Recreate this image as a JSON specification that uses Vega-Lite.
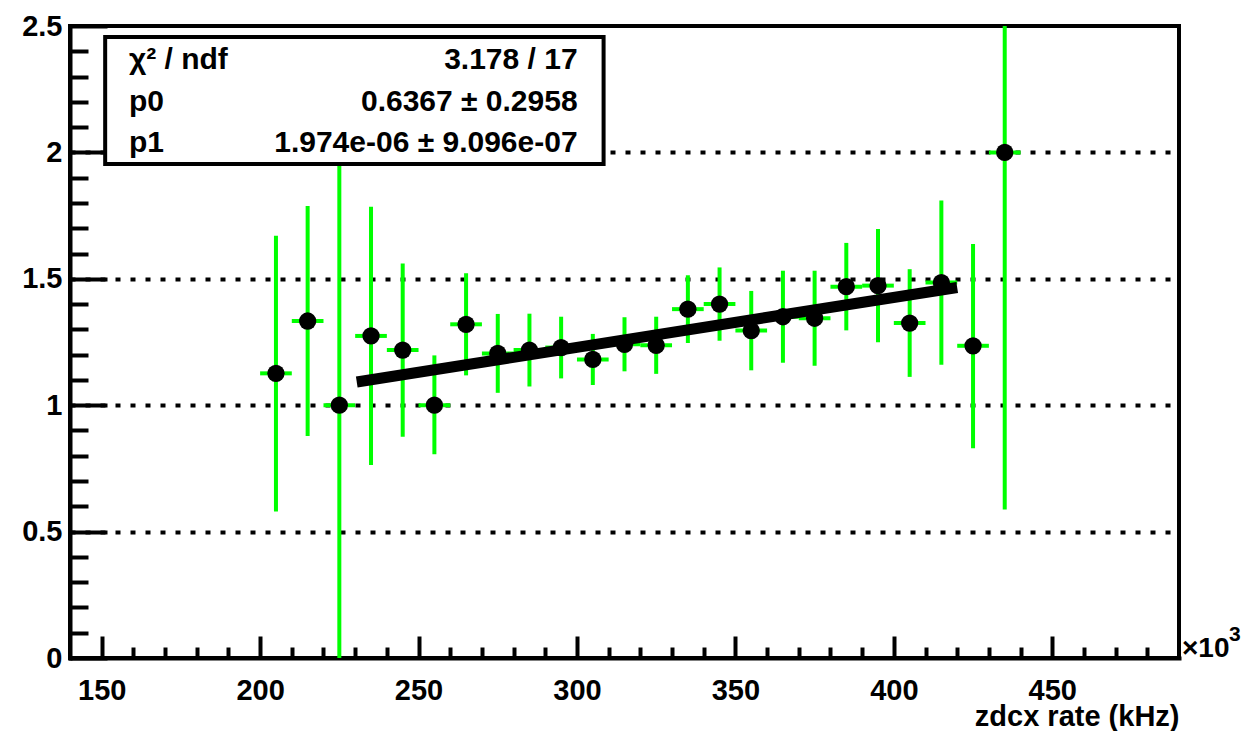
{
  "$schema": "https://vega.github.io/schema/vega-lite/v6.json",
  "width": 1109,
  "height": 632,
  "autosize": {"type": "none"},
  "padding": {"left": 70, "top": 26, "right": 70, "bottom": 73},
  "background": "white",
  "config": {
    "view": {"stroke": "black", "strokeWidth": 4},
    "axis": {
      "domainColor": "black", "domainWidth": 4, "domainCap": "square",
      "tickColor": "black", "tickWidth": 4,
      "labelFont": "Liberation Sans", "labelFontWeight": "bold", "labelFontSize": 29, "labelColor": "black",
      "titleFont": "Liberation Sans", "titleFontWeight": "bold", "titleFontSize": 29, "titleColor": "black",
      "labelFlush": false, "labelOverlap": false, "labelBound": false
    },
    "text": {"font": "Liberation Sans", "fontWeight": "bold", "fontSize": 30, "color": "black"}
  },
  "datasets": {
    "points": [
      {"x": 205, "xlo": 200, "xhi": 210, "y": 1.126, "ylo": 0.580, "yhi": 1.670},
      {"x": 215, "xlo": 210, "xhi": 220, "y": 1.333, "ylo": 0.878, "yhi": 1.788},
      {"x": 225, "xlo": 220, "xhi": 230, "y": 1.000, "ylo": 0.000, "yhi": 2.000},
      {"x": 235, "xlo": 230, "xhi": 240, "y": 1.274, "ylo": 0.763, "yhi": 1.785},
      {"x": 245, "xlo": 240, "xhi": 250, "y": 1.218, "ylo": 0.875, "yhi": 1.561},
      {"x": 255, "xlo": 250, "xhi": 260, "y": 1.000, "ylo": 0.806, "yhi": 1.197},
      {"x": 265, "xlo": 260, "xhi": 270, "y": 1.320, "ylo": 1.118, "yhi": 1.522},
      {"x": 275, "xlo": 270, "xhi": 280, "y": 1.205, "ylo": 1.049, "yhi": 1.361},
      {"x": 285, "xlo": 280, "xhi": 290, "y": 1.218, "ylo": 1.074, "yhi": 1.362},
      {"x": 295, "xlo": 290, "xhi": 300, "y": 1.228, "ylo": 1.106, "yhi": 1.350},
      {"x": 305, "xlo": 300, "xhi": 310, "y": 1.181, "ylo": 1.080, "yhi": 1.282},
      {"x": 315, "xlo": 310, "xhi": 320, "y": 1.241, "ylo": 1.134, "yhi": 1.348},
      {"x": 325, "xlo": 320, "xhi": 330, "y": 1.237, "ylo": 1.124, "yhi": 1.350},
      {"x": 335, "xlo": 330, "xhi": 340, "y": 1.380, "ylo": 1.246, "yhi": 1.514},
      {"x": 345, "xlo": 340, "xhi": 350, "y": 1.400, "ylo": 1.255, "yhi": 1.545},
      {"x": 355, "xlo": 350, "xhi": 360, "y": 1.295, "ylo": 1.138, "yhi": 1.452},
      {"x": 365, "xlo": 360, "xhi": 370, "y": 1.350, "ylo": 1.168, "yhi": 1.532},
      {"x": 375, "xlo": 370, "xhi": 380, "y": 1.344, "ylo": 1.156, "yhi": 1.532},
      {"x": 385, "xlo": 380, "xhi": 390, "y": 1.469, "ylo": 1.296, "yhi": 1.642},
      {"x": 395, "xlo": 390, "xhi": 400, "y": 1.473, "ylo": 1.249, "yhi": 1.697},
      {"x": 405, "xlo": 400, "xhi": 410, "y": 1.325, "ylo": 1.112, "yhi": 1.538},
      {"x": 415, "xlo": 410, "xhi": 420, "y": 1.485, "ylo": 1.160, "yhi": 1.810},
      {"x": 425, "xlo": 420, "xhi": 430, "y": 1.235, "ylo": 0.830, "yhi": 1.638},
      {"x": 435, "xlo": 430, "xhi": 440, "y": 2.000, "ylo": 0.587, "yhi": 3.413}
    ],
    "fit": [
      {"x": 230.5, "y": 1.0917},
      {"x": 420.0, "y": 1.4658}
    ],
    "stats": [
      {"row": 1, "name": "χ² / ndf", "value": "3.178 / 17"},
      {"row": 2, "name": "p0", "value": "0.6367  ± 0.2958"},
      {"row": 3, "name": "p1", "value": "1.974e-06 ± 9.096e-07"}
    ]
  },
  "resolve": {"axis": {"x": "independent", "y": "independent"}},
  "layer": [
    {
      "data": {"name": "points"},
      "mark": {"type": "rule", "color": "#00ff00", "strokeWidth": 4, "clip": true},
      "encoding": {
        "x": {"field": "x", "type": "quantitative", "scale": {"domain": [140, 490], "nice": false, "zero": false},
          "axis": {"orient": "bottom", "values": [150, 200, 250, 300, 350, 400, 450], "format": "d", "tickSize": -22, "labelPadding": 40, "grid": false,
            "title": "zdcx rate (kHz)", "titleAnchor": "end", "titlePadding": -3}},
        "y": {"field": "ylo", "type": "quantitative", "scale": {"domain": [0, 2.5], "nice": false, "zero": false},
          "axis": {"orient": "left", "values": [0, 0.5, 1, 1.5, 2, 2.5], "format": "~g", "tickSize": -37, "labelPadding": 45, "title": null,
            "grid": true, "gridColor": "black", "gridWidth": 4, "gridDash": [5, 10],
            "gridOpacity": {"condition": {"test": "datum.value > 0.01 && datum.value < 2.49", "value": 1}, "value": 0}}},
        "y2": {"field": "yhi"}
      }
    },
    {
      "data": {"name": "points"},
      "mark": {"type": "rule", "color": "#00ff00", "strokeWidth": 4},
      "encoding": {
        "x": {"field": "xlo", "type": "quantitative", "scale": {"domain": [140, 490], "nice": false, "zero": false}, "axis": null},
        "x2": {"field": "xhi"},
        "y": {"field": "y", "type": "quantitative", "scale": {"domain": [0, 2.5], "nice": false, "zero": false}, "axis": null}
      }
    },
    {
      "data": {"name": "points"},
      "mark": {"type": "circle", "color": "black", "opacity": 1, "size": 300},
      "encoding": {
        "x": {"field": "x", "type": "quantitative", "scale": {"domain": [140, 490], "nice": false, "zero": false},
          "axis": {"orient": "bottom", "values": [160, 170, 180, 190, 210, 220, 230, 240, 260, 270, 280, 290, 310, 320, 330, 340, 360, 370, 380, 390, 410, 420, 430, 440, 460, 470, 480],
            "tickSize": -11, "labels": false, "domain": false, "grid": false, "title": null}},
        "y": {"field": "y", "type": "quantitative", "scale": {"domain": [0, 2.5], "nice": false, "zero": false},
          "axis": {"orient": "left", "values": [0.1, 0.2, 0.3, 0.4, 0.6, 0.7, 0.8, 0.9, 1.1, 1.2, 1.3, 1.4, 1.6, 1.7, 1.8, 1.9, 2.1, 2.2, 2.3, 2.4],
            "tickSize": -18, "labels": false, "domain": false, "grid": false, "title": null}}
      }
    },
    {
      "data": {"name": "fit"},
      "mark": {"type": "line", "color": "black", "strokeWidth": 11, "strokeCap": "butt"},
      "encoding": {
        "x": {"field": "x", "type": "quantitative", "scale": {"domain": [140, 490], "nice": false, "zero": false}, "axis": null},
        "y": {"field": "y", "type": "quantitative", "scale": {"domain": [0, 2.5], "nice": false, "zero": false}, "axis": null}
      }
    },
    {
      "data": {"values": [{}]},
      "mark": {"type": "rect", "fill": "white", "stroke": "black", "strokeWidth": 4},
      "encoding": {
        "x": {"datum": 151.1, "type": "quantitative", "scale": {"domain": [140, 490], "nice": false, "zero": false}, "axis": null},
        "x2": {"datum": 308.4},
        "y": {"datum": 1.954, "type": "quantitative", "scale": {"domain": [0, 2.5], "nice": false, "zero": false}, "axis": null},
        "y2": {"datum": 2.456}
      }
    },
    {
      "data": {"name": "stats"},
      "transform": [{"filter": "datum.row == 1"}],
      "layer": [
        {"mark": {"type": "text", "align": "left", "baseline": "middle"},
         "encoding": {"x": {"datum": 158.6, "type": "quantitative", "axis": null}, "y": {"datum": 2.366, "type": "quantitative", "axis": null}, "text": {"field": "name"}}},
        {"mark": {"type": "text", "align": "right", "baseline": "middle"},
         "encoding": {"x": {"datum": 300.2, "type": "quantitative", "axis": null}, "y": {"datum": 2.366, "type": "quantitative", "axis": null}, "text": {"field": "value"}}}
      ]
    },
    {
      "data": {"name": "stats"},
      "transform": [{"filter": "datum.row == 2"}],
      "layer": [
        {"mark": {"type": "text", "align": "left", "baseline": "middle"},
         "encoding": {"x": {"datum": 158.6, "type": "quantitative", "axis": null}, "y": {"datum": 2.199, "type": "quantitative", "axis": null}, "text": {"field": "name"}}},
        {"mark": {"type": "text", "align": "right", "baseline": "middle"},
         "encoding": {"x": {"datum": 300.2, "type": "quantitative", "axis": null}, "y": {"datum": 2.199, "type": "quantitative", "axis": null}, "text": {"field": "value"}}}
      ]
    },
    {
      "data": {"name": "stats"},
      "transform": [{"filter": "datum.row == 3"}],
      "layer": [
        {"mark": {"type": "text", "align": "left", "baseline": "middle"},
         "encoding": {"x": {"datum": 158.6, "type": "quantitative", "axis": null}, "y": {"datum": 2.037, "type": "quantitative", "axis": null}, "text": {"field": "name"}}},
        {"mark": {"type": "text", "align": "right", "baseline": "middle"},
         "encoding": {"x": {"datum": 300.2, "type": "quantitative", "axis": null}, "y": {"datum": 2.037, "type": "quantitative", "axis": null}, "text": {"field": "value"}}}
      ]
    },
    {
      "data": {"values": [{}]},
      "mark": {"type": "text", "align": "left", "baseline": "alphabetic", "dx": 3, "dy": -1, "fontSize": 28},
      "encoding": {
        "x": {"datum": 490, "type": "quantitative", "axis": null},
        "y": {"datum": 0, "type": "quantitative", "axis": null},
        "text": {"value": "×10"}
      }
    },
    {
      "data": {"values": [{}]},
      "mark": {"type": "text", "align": "left", "baseline": "alphabetic", "dx": 50, "dy": -17, "fontSize": 21},
      "encoding": {
        "x": {"datum": 490, "type": "quantitative", "axis": null},
        "y": {"datum": 0, "type": "quantitative", "axis": null},
        "text": {"value": "3"}
      }
    }
  ]
}
